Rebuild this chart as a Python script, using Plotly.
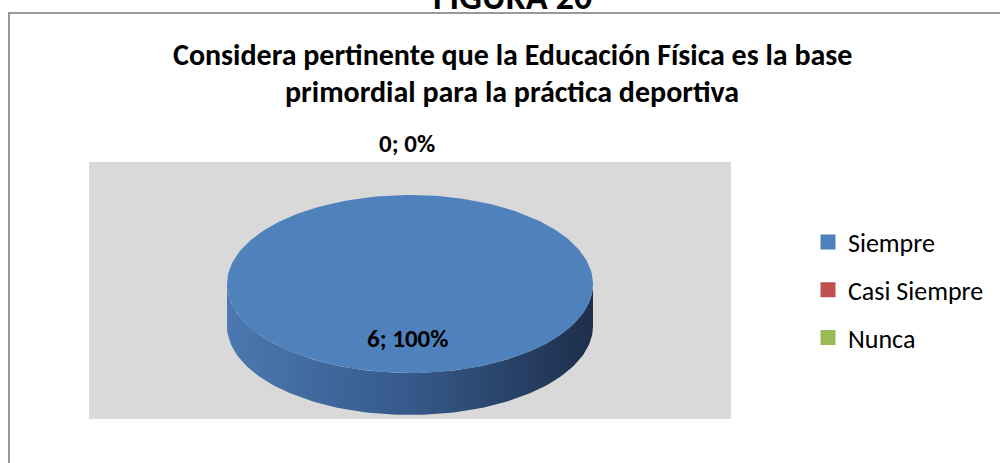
import numpy as np
import plotly.graph_objects as go

# ---- data ----
categories = ["Siempre", "Casi Siempre", "Nunca"]
values = [6, 0, 0]
colors = ["#4F81BD", "#C0504D", "#9BBB59"]
side_colors = [
    [[0, "#4b78b1"], [0.5, "#36598a"], [1, "#1d2f4b"]],
    [[0, "#b34b48"], [0.5, "#8c3a38"], [1, "#5a2524"]],
    [[0, "#90ae53"], [0.5, "#718941"], [1, "#4a5a2a"]],
]
title_lines = ["Considera pertinente que la Educación Física es la base",
               "primordial para la práctica deportiva"]
figure_label = "FIGURA 20"

FONT = "Carlito, Calibri, Lato, sans-serif"

# ---- geometry (style) ----
RX, RY, DEPTH = 1.0, 0.4863, 0.2295
W, H = 1000, 463

total = sum(values)
fig = go.Figure()

start = np.pi / 2  # 12 o'clock, clockwise
label_x, label_y, label_t = [], [], []
slices = []
for cat, v, c, sc in zip(categories, values, colors, side_colors):
    sweep = 2 * np.pi * v / total
    a0, a1 = start, start - sweep
    slices.append((cat, v, c, sc, a0, a1))
    mid = (a0 + a1) / 2
    pct = round(100 * v / total)
    if v == total:
        r = 0.61
    elif v == 0:
        r = 1.58
    else:
        r = 0.65
    label_x.append(r * RX * np.cos(mid) - 0.016)
    label_y.append(r * RY * np.sin(mid))
    label_t.append(f"<b>{v}; {pct}%</b>")
    start = a1

# sides (front visible part)
for cat, v, c, sc, a0, a1 in slices:
    if v == 0:
        continue
    lo, hi = min(a0, a1), max(a0, a1)
    segs = []
    for shift in (-2 * np.pi, 0, 2 * np.pi):
        s, e = max(lo + shift, -np.pi), min(hi + shift, 0)
        if e > s:
            segs.append((s, e))
    for s, e in segs:
        t = np.linspace(s, e, 120)
        xs = np.concatenate([RX * np.cos(t), RX * np.cos(t[::-1])])
        ys = np.concatenate([RY * np.sin(t), RY * np.sin(t[::-1]) - DEPTH])
        fig.add_trace(go.Scatter(x=xs, y=ys, fill="toself", mode="lines",
                                 line=dict(width=0), fillcolor=c,
                                 fillgradient=dict(type="horizontal", colorscale=sc),
                                 showlegend=False, hoverinfo="skip"))

# top faces
for cat, v, c, sc, a0, a1 in slices:
    if v == 0:
        continue
    t = np.linspace(a0, a1, 240)
    xs = RX * np.cos(t)
    ys = RY * np.sin(t)
    if v != total:
        xs = np.concatenate([[0], xs, [0]])
        ys = np.concatenate([[0], ys, [0]])
    fig.add_trace(go.Scatter(x=xs, y=ys, fill="toself", mode="lines",
                             line=dict(width=0), fillcolor=c,
                             showlegend=False, name=cat, hoverinfo="skip"))

# data labels (one label where zero slices coincide)
seen = set()
label_annotations = []
for x, y, t in zip(label_x, label_y, label_t):
    key = (round(x, 3), round(y, 3), t)
    if key in seen:
        continue
    seen.add(key)
    label_annotations.append(dict(
        text=t, xref="x", yref="y", x=x, y=y, xanchor="center",
        yanchor="middle", showarrow=False,
        font=dict(family=FONT, size=25, color="#000000")))

# legend entries
for i, (cat, c) in enumerate(zip(categories, colors)):
    fig.add_trace(go.Scatter(x=[None], y=[None], mode="markers", name=cat,
                             legendgroup=f"g{i}",
                             marker=dict(symbol="square", size=15, color=c)))

px = 183.0
fig.update_layout(
    width=W, height=H,
    margin=dict(l=0, r=0, t=0, b=0),
    paper_bgcolor="white",
    plot_bgcolor="rgba(0,0,0,0)",
    xaxis=dict(domain=[89 / W, 731 / W], range=[-321 / px, 321 / px],
               visible=False, fixedrange=True),
    yaxis=dict(domain=[(H - 419) / H, (H - 126) / H],
               range=[-135 / px, 158 / px], visible=False, fixedrange=True),
    legend=dict(x=0.808, y=(H - 290) / H, xanchor="left", yanchor="middle",
                font=dict(family=FONT, size=26, color="#000000"),
                tracegroupgap=11, bgcolor="rgba(0,0,0,0)"),
    showlegend=True,
    shapes=[
        dict(type="rect", xref="paper", yref="paper",
             x0=9 / W, x1=1.02, y0=-0.02, y1=(H - 13) / H,
             line=dict(color="#999999", width=2), fillcolor="rgba(0,0,0,0)",
             layer="below"),
        dict(type="rect", xref="paper", yref="paper",
             x0=89 / W, x1=731 / W, y0=(H - 419) / H, y1=(H - 162) / H,
             line=dict(width=0), fillcolor="#D9D9D9", layer="below"),
    ],
    annotations=[
        dict(text=f"<b>{figure_label}</b>", xref="paper", yref="paper",
             x=512 / W, y=(H - 21) / H, xanchor="center", yanchor="bottom",
             showarrow=False, font=dict(family=FONT, size=36, color="#000000")),
        dict(text=f"<b>{title_lines[0]}</b>", xref="paper", yref="paper",
             x=512 / W, y=(H - 54) / H, xanchor="center", yanchor="middle",
             showarrow=False, font=dict(family=FONT, size=30, color="#000000")),
        dict(text=f"<b>{title_lines[1]}</b>", xref="paper", yref="paper",
             x=512 / W, y=(H - 91) / H, xanchor="center", yanchor="middle",
             showarrow=False, font=dict(family=FONT, size=30, color="#000000")),
    ] + label_annotations,
)

fig.write_html("out.html", config={"displayModeBar": False},
               post_script="document.body.style.margin='0';")
